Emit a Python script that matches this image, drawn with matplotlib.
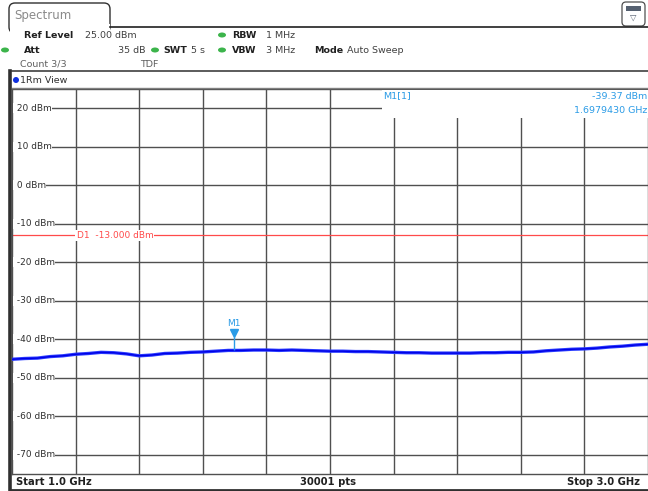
import matplotlib
matplotlib.use("Agg")
import matplotlib.pyplot as plt
from matplotlib.patches import Rectangle, FancyBboxPatch, Ellipse
from matplotlib.transforms import offset_copy

# ---- data ----
freq_ghz = [1.00, 1.04, 1.08, 1.12, 1.16, 1.20, 1.24, 1.28, 1.32, 1.36,
            1.40, 1.44, 1.48, 1.52, 1.56, 1.60, 1.64, 1.68, 1.72, 1.76,
            1.80, 1.84, 1.88, 1.92, 1.96, 2.00, 2.04, 2.08, 2.12, 2.16,
            2.20, 2.24, 2.28, 2.32, 2.36, 2.40, 2.44, 2.48, 2.52, 2.56,
            2.60, 2.64, 2.68, 2.72, 2.76, 2.80, 2.84, 2.88, 2.92, 2.96, 3.00]
level_dbm = [-45.2, -45.0, -44.9, -44.5, -44.3, -43.9, -43.7, -43.4, -43.5, -43.8,
             -44.3, -44.1, -43.7, -43.6, -43.4, -43.3, -43.1, -42.9, -42.9, -42.8,
             -42.8, -42.9, -42.8, -42.9, -43.0, -43.1, -43.1, -43.2, -43.2, -43.3,
             -43.4, -43.5, -43.5, -43.6, -43.6, -43.6, -43.6, -43.5, -43.5, -43.4,
             -43.4, -43.3, -43.0, -42.8, -42.6, -42.5, -42.3, -42.0, -41.8, -41.5, -41.3]

marker_freq = 1.6979430
marker_level = -39.37
marker_base = -42.9
d1_level = -13.0

y_ticks = [20, 10, 0, -10, -20, -30, -40, -50, -60, -70]
y_labels = ["20 dBm", "10 dBm", "0 dBm", "-10 dBm", "-20 dBm",
            "-30 dBm", "-40 dBm", "-50 dBm", "-60 dBm", "-70 dBm"]
x_grid = [1.2, 1.4, 1.6, 1.8, 2.0, 2.2, 2.4, 2.6, 2.8]

W, H = 648, 491
GRID = "#505050"
MK = "#2a9be6"
GREEN = "#3cb44b"
TXT = "#202020"

fig = plt.figure(figsize=(W / 100, H / 100), dpi=100)
fig.patch.set_facecolor("white")

# main plot area (pixels: x 12..648, y 89..474)
ax = fig.add_axes([12 / W, (H - 474) / H, 636 / W, 385 / H])
ax.set_xlim(1.0, 3.0)
ax.set_ylim(-75, 25)
ax.set_xticks(x_grid)
ax.set_yticks(y_ticks)
ax.tick_params(length=0, labelbottom=False, labelleft=False)
ax.grid(True, color=GRID, lw=1.0)
for s in ax.spines.values():
    s.set_color(GRID)
    s.set_linewidth(1.0)

for yv, lab in zip(y_ticks, y_labels):
    ax.text(0.0025, yv, " " + lab, transform=ax.get_yaxis_transform(), fontsize=6.5,
            color="#303030", va="center", ha="left",
            bbox=dict(fc="white", ec="none", pad=0.5), zorder=3)

# D1 line
ax.axhline(d1_level, color="#ff4a4a", lw=0.9, zorder=2)
ax.text(1.203, d1_level, "D1  -13.000 dBm", fontsize=6.5, color="#ff4a4a",
        va="center", ha="left", bbox=dict(fc="white", ec="none", pad=0.8), zorder=3)

# trace
ax.plot(freq_ghz, level_dbm, color="#2a3cff", lw=2.4, solid_joinstyle="round", zorder=4)
ax.plot(freq_ghz, level_dbm, color="#0000e6", lw=1.0, zorder=4)

# marker
ax.vlines(marker_freq, marker_base, marker_level, color=MK, lw=1.0, zorder=5)
tri = offset_copy(ax.transData, fig=fig, x=0, y=3.5, units="dots")
ax.plot([marker_freq], [marker_level], marker="v", ms=6, color=MK, mec=MK,
        transform=tri, zorder=6)
ax.text(marker_freq, marker_level, "M1", color=MK, fontsize=6.5, ha="center",
        va="bottom", transform=offset_copy(ax.transData, fig=fig, x=0, y=9, units="dots"))

# overlay in pixel coordinates for the instrument chrome
ov = fig.add_axes([0, 0, 1, 1])
ov.set_xlim(0, W)
ov.set_ylim(H, 0)
ov.axis("off")
ov.patch.set_visible(False)

# tab
ov.add_patch(FancyBboxPatch((9, 3), 101, 30, boxstyle="round,pad=0,rounding_size=6",
                            fc="white", ec="#303030", lw=1.0))
ov.add_patch(Rectangle((9.6, 24), 100, 10, fc="white", ec="none"))
ov.plot([110, W], [27, 27], color="#202020", lw=1.2)
ov.text(14, 15, "Spectrum", fontsize=8.5, color="#8a8a8a", va="center")

# filter icon
ov.add_patch(FancyBboxPatch((622, 2), 23, 24, boxstyle="round,pad=0,rounding_size=4",
                            fc="white", ec="#505050", lw=0.9))
ov.add_patch(Rectangle((626, 6), 15, 5, fc="#556070", ec="none"))
ov.text(633.5, 17, "\u25bd", fontsize=6, color="#556070", ha="center", va="center")

# header rows
def hdr(x, y, s, bold=False, color=TXT, ha="left", size=6.8):
    ov.text(x, y, s, fontsize=size, color=color, ha=ha, va="center",
            fontweight="bold" if bold else "normal")

def dot(x, y, c=GREEN, w=8, h=5):
    ov.add_patch(Ellipse((x, y), w, h, fc=c, ec="none"))

hdr(24, 35, "Ref Level", bold=True)
hdr(85, 35, "25.00 dBm", color="#404040")
dot(222, 35)
hdr(232, 35, "RBW", bold=True)
hdr(266, 35, "1 MHz", color="#404040")

dot(5, 50)
hdr(24, 50, "Att", bold=True)
hdr(145, 50, "35 dB", color="#404040", ha="right")
dot(155, 50)
hdr(163, 50, "SWT", bold=True)
hdr(191, 50, "5 s", color="#404040")
dot(222, 50)
hdr(232, 50, "VBW", bold=True)
hdr(266, 50, "3 MHz", color="#404040")
hdr(314, 50, "Mode", bold=True)
hdr(347, 50, "Auto Sweep", color="#404040")

hdr(20, 64, "Count 3/3", color="#606060")
hdr(140, 64, "TDF", color="#606060")

# view box
ov.plot([12, W], [71, 71], color="#404040", lw=1.2)
ov.plot([12, W], [88, 88], color="#808080", lw=1.0)
dot(16, 80, c="#1030e0", w=6, h=6)
hdr(20, 80, "1Rm View", color="#303030")

# left border and bottom status bar
ov.plot([10, 10], [71, 490], color="#303030", lw=2.6)
ov.plot([10, W], [489.5, 489.5], color="#303030", lw=2.0)
hdr(16, 482, "Start 1.0 GHz", bold=True, size=7.2)
hdr(328, 482, "30001 pts", bold=True, ha="center", size=7.2)
hdr(640, 482, "Stop 3.0 GHz", bold=True, ha="right", size=7.2)

# marker readout box
ov.add_patch(Rectangle((382, 89.5), W - 382, 28, fc="white", ec="none"))
ov.text(383, 96, "M1[1]", fontsize=6.8, color=MK, va="center")
ov.text(647, 96, "-39.37 dBm", fontsize=6.8, color=MK, va="center", ha="right")
ov.text(647, 110, "1.6979430 GHz", fontsize=6.8, color=MK, va="center", ha="right")

fig.savefig("out.png", dpi=100)
